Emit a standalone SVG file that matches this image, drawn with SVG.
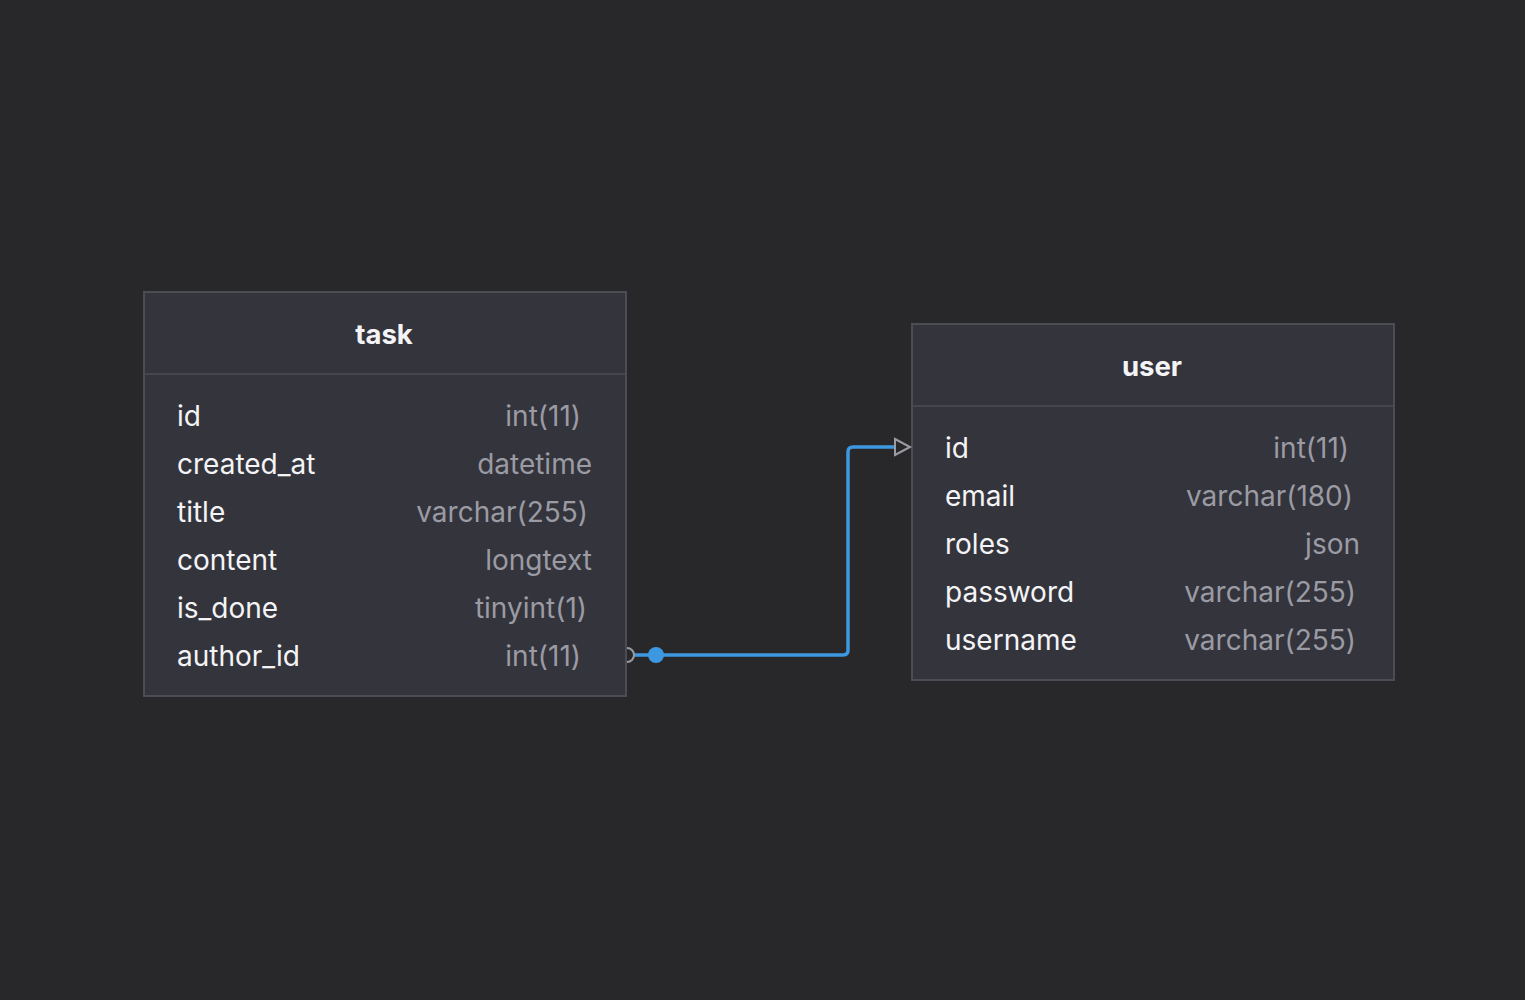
<svg xmlns="http://www.w3.org/2000/svg" width="1525" height="1000" viewBox="0 0 1525 1000">
<style>
.box{fill:#34343d;stroke:#4c4c55;stroke-width:2}
.div{stroke:#45454e;stroke-width:2}
.title{font-family:Inter,"Liberation Sans",sans-serif;font-size:27.5px;font-weight:700;fill:#f4f4f6;text-anchor:middle}
.col{font-family:Inter,"Liberation Sans",sans-serif;font-size:28px;fill:#f4f4f6}
.type{font-family:Inter,"Liberation Sans",sans-serif;font-size:28px;fill:#9b9ba3;text-anchor:end}
</style>
<rect width="1525" height="1000" fill="#28282b"/>
<g id="task">
<rect class="box" x="144" y="292" width="482" height="404"/>
<line class="div" x1="145" y1="374" x2="625" y2="374"/>
<text class="title" x="384" y="344">task</text>
<text class="col" x="177" y="426">id</text><text class="type" x="581" y="426">int(11)</text>
<text class="col" x="177" y="474">created_at</text><text class="type" x="592" y="474">datetime</text>
<text class="col" x="177" y="522">title</text><text class="type" x="588" y="522">varchar(255)</text>
<text class="col" x="177" y="570">content</text><text class="type" x="592" y="570">longtext</text>
<text class="col" x="177" y="618">is_done</text><text class="type" x="587" y="618">tinyint(1)</text>
<text class="col" x="177" y="666">author_id</text><text class="type" x="581" y="666">int(11)</text>
</g>
<g id="user">
<rect class="box" x="912" y="324" width="482" height="356"/>
<line class="div" x1="913" y1="406" x2="1393" y2="406"/>
<text class="title" x="1152" y="376">user</text>
<text class="col" x="945" y="458">id</text><text class="type" x="1349" y="458">int(11)</text>
<text class="col" x="945" y="506">email</text><text class="type" x="1353" y="506">varchar(180)</text>
<text class="col" x="945" y="554">roles</text><text class="type" x="1360" y="554">json</text>
<text class="col" x="945" y="602">password</text><text class="type" x="1356" y="602">varchar(255)</text>
<text class="col" x="945" y="650">username</text><text class="type" x="1356" y="650">varchar(255)</text>
</g>
<g id="connectors">
<path d="M634 655 H843 Q848 655 848 650 V452 Q848 447 853 447 H896" fill="none" stroke="#3d98e0" stroke-width="3.5"/>
<path d="M627 648 A7 7 0 0 1 627 662" fill="none" stroke="#9b9ba3" stroke-width="2"/>
<circle cx="656" cy="655" r="8" fill="#3d98e0"/>
<path d="M895 439 L910 447 L895 455 Z" fill="#28282b" stroke="#9b9ba3" stroke-width="2"/>
</g>
</svg>
